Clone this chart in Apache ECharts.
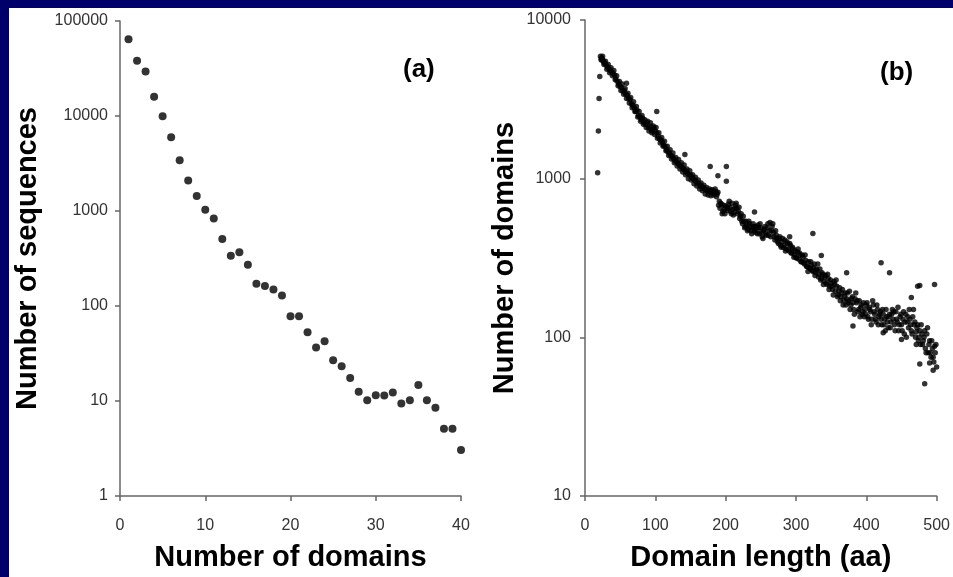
<!DOCTYPE html>
<html>
<head>
<meta charset="utf-8">
<script src="https://cdn.jsdelivr.net/npm/echarts@6/dist/echarts.min.js"></script>
<style>
  html, body { margin: 0; padding: 0; width: 953px; height: 577px; background: #00006a; overflow: hidden; }
  #chart { position: absolute; left: 9px; top: 8px; width: 944px; height: 569px; background: #ffffff; }
</style>
</head>
<body>
<div id="chart"></div>
<script>
// ---- Panel (a): number of sequences vs number of domains ----
const domainCounts = [1,2,3,4,5,6,7,8,9,10,11,12,13,14,15,16,17,18,19,20,21,22,23,24,25,26,27,28,29,30,31,32,33,34,35,36,37,38,39,40];
const sequenceCounts = [64300,38100,29400,15900,9930,5980,3430,2100,1440,1030,835,506,338,367,272,171,162,149,129,78,78,53,36.5,42.5,26.8,23.2,17.5,12.5,10.2,11.5,11.4,12.3,9.4,10.2,14.7,10.2,8.5,5.1,5.1,3.05];

// ---- Panel (b): number of domains vs domain length ----
const lengthBand = [22,24,26,28,30,32,34,36,38,40,42,44,46,48,50,52,54,56,58,60,62,64,66,68,70,72,74,76,78,80,82,84,86,88,90,92,94,96,98,100,102,104,106,108,110,112,114,116,118,120,122,124,126,128,130,132,134,136,138,140,142,144,146,148,150,152,154,156,158,160,162,164,166,168,170,172,174,176,178,180,182,184,186,188,190,192,194,196,198,200,202,204,206,208,210,212,214,216,218,220,222,224,226,228,230,232,234,236,238,240,242,244,246,248,250,252,254,256,258,260,262,264,266,268,270,272,274,276,278,280,282,284,286,288,290,292,294,296,298,300,302,304,306,308,310,312,314,316,318,320,322,324,326,328,330,332,334,336,338,340,342,344,346,348,350,352,354,356,358,360,362,364,366,368,370,372,374,376,378,380,382,384,386,388,390,392,394,396,398,400,402,404,406,408,410,412,414,416,418,420,422,424,426,428,430,432,434,436,438,440,442,444,446,448,450,452,454,456,458,460,462,464,466,468,470,472,474,476,478,480,482,484,486,488,490,492,494,496,498,500];
const countBand = [5900,5750,5500,5350,5200,5050,4950,4800,4700,4600,4500,4250,4100,3950,3800,3750,3550,3600,3400,3350,3200,3150,2950,2900,2800,2650,2700,2500,2450,2350,2400,2250,2200,2250,2100,2150,2050,2000,2100,2000,1950,1850,1780,1750,1700,1620,1600,1520,1480,1450,1400,1380,1340,1300,1280,1250,1230,1200,1180,1150,1130,1100,1080,1060,1050,1020,1000,980,960,940,930,900,890,880,860,850,840,830,840,820,830,810,830,800,680,650,690,620,640,670,630,690,660,600,640,610,680,650,620,560,600,520,540,500,510,480,520,470,490,500,460,480,510,450,490,430,470,500,440,520,470,430,500,460,410,440,400,420,380,400,370,410,360,390,350,380,340,360,330,320,345,310,330,300,320,290,305,280,300,270,285,260,290,255,265,240,270,235,250,225,245,215,235,210,220,200,225,195,210,185,205,180,200,170,190,175,165,195,160,180,150,175,165,145,170,155,140,165,150,160,135,155,145,130,160,140,125,150,135,145,120,140,130,150,125,135,115,140,130,120,145,125,110,135,120,130,105,140,125,115,130,110,135,120,100,115,95,110,120,90,100,85,105,80,95,75,85,70,80,65];
const lengthOdd = [23,25,27,29,31,33,35,37,39,41,43,45,47,49,51,53,55,57,59,61,63,65,67,69,71,73,75,77,79,81,83,85,87,89,91,93,95,97,99,101,103,105,107,109,111,113,115,117,119,121,123,125,127,129,131,133,135,137,139,141,143,145,147,149,151,153,155,157,159,161,163,165,167,169,171,173,175,177,179,181,183,185,187,189,191,195,197,203,207,209,211,213,217,219,221,223,225,227,229,231,235,237,239,241,243,245,247,251,253,255,257,259,261,265,267,269,273,275,277,279,281,283,285,287,289,291,293,295,297,299,301,305,307,309,311,315,319,321,323,325,327,329,333,335,337,339,341,343,347,349,351,353,355,359,361,363,365,369,371,373,375,377,379,381,383,387,389,391,393,395,399,401,403,405,407,411,413,417,419,421,423,425,429,431,433,435,439,441,443,447,449,451,455,457,459,463,465,469,471,473,475,477,481,483,485,489,491,495,497];
const countOdd = [5600,5900,5250,5500,4900,5250,4650,5000,4450,4800,4200,4450,3850,4100,3600,3950,3400,3700,3200,3450,3000,3250,2800,3050,2650,2850,2450,2650,2300,2500,2200,2350,2100,2300,2000,2250,1950,2150,1900,2100,1800,1950,1680,1820,1600,1720,1500,1600,1400,1520,1330,1450,1260,1360,1200,1320,1150,1260,1100,1220,1060,1150,1000,1120,980,1060,930,1020,900,980,860,940,840,910,800,880,790,860,780,850,790,860,770,820,720,600,680,650,620,700,590,650,600,660,580,540,580,490,540,470,500,450,520,470,500,450,490,460,420,480,450,490,440,470,520,430,420,390,430,370,420,380,350,400,360,390,340,370,320,350,315,340,300,330,295,280,275,300,265,275,245,270,250,230,255,215,240,220,200,230,210,185,215,180,195,170,190,180,160,190,170,150,175,165,140,170,150,135,160,145,140,165,130,150,120,145,130,120,140,130,150,120,135,115,140,125,145,110,130,120,140,110,125,100,135,120,105,125,108,120,100,90,95,110,80,90,80,75,88];
const lengthExtra = [18,19,20,21,23,25,27,59,102,142,178,201,189,201,241,291,324,336,372,421,433,464,473,497,476,381,424,450,471,483,490,495,476,331,345,357,367,385,397,409,415,427,437,445,453,461,467,479,487,493,499,303,313,317,271,263,249,233,215,205,199,193];
const countExtra = [1090,2000,3200,4400,5700,5600,5400,4000,2650,1420,1195,1195,1045,962,617,430,451,328,255,295,255,178,210,215,212,118,107,97,90,51,69,62,68,290,250,230,160,190,135,170,160,110,150,155,145,150,150,105,115,95,90,360,330,260,470,530,520,540,700,720,600,700];

const xTicksA = [0, 40, 10];   // min, max, interval
const xTicksB = [0, 500, 100];

const toPairs = (xs, ys) => xs.map((x, i) => [x, ys[i]]);

const axisLineStyle = { color: '#666', width: 1.5 };
const tickLabel = { color: '#333', fontSize: 16, fontFamily: 'Liberation Sans, Arial, sans-serif' };
const nameStyle = { color: '#000', fontSize: 29, fontWeight: 'bold', fontFamily: 'Liberation Sans, Arial, sans-serif' };
const fmt = v => String(Math.round(v));

const chart = echarts.init(document.getElementById('chart'), null, { renderer: 'canvas' });
chart.setOption({
  animation: false,
  backgroundColor: '#ffffff',
  grid: [
    { left: 111, top: 13, width: 341, height: 477 },
    { left: 576, top: 12, width: 352, height: 477 }
  ],
  xAxis: [
    {
      gridIndex: 0, type: 'value', min: xTicksA[0], max: xTicksA[1], interval: xTicksA[2],
      name: 'Number of domains', nameLocation: 'middle', nameGap: 47, nameTextStyle: nameStyle,
      axisLine: { lineStyle: axisLineStyle }, axisTick: { length: 5, lineStyle: axisLineStyle },
      axisLabel: Object.assign({ margin: 22 }, tickLabel), splitLine: { show: false }
    },
    {
      gridIndex: 1, type: 'value', min: xTicksB[0], max: xTicksB[1], interval: xTicksB[2],
      name: 'Domain length (aa)', nameLocation: 'middle', nameGap: 47, nameTextStyle: nameStyle,
      axisLine: { lineStyle: axisLineStyle }, axisTick: { length: 5, lineStyle: axisLineStyle },
      axisLabel: Object.assign({ margin: 22 }, tickLabel), splitLine: { show: false }
    }
  ],
  yAxis: [
    {
      gridIndex: 0, type: 'log', logBase: 10, min: 1, max: 100000,
      name: 'Number of sequences', nameLocation: 'middle', nameGap: 78, nameTextStyle: nameStyle,
      axisLine: { show: true, lineStyle: axisLineStyle }, axisTick: { show: true, length: 5, lineStyle: axisLineStyle },
      axisLabel: Object.assign({ margin: 12, formatter: fmt }, tickLabel), splitLine: { show: false }
    },
    {
      gridIndex: 1, type: 'log', logBase: 10, min: 10, max: 10000,
      name: 'Number of domains', nameLocation: 'middle', nameGap: 66, nameTextStyle: nameStyle,
      axisLine: { show: true, lineStyle: axisLineStyle }, axisTick: { show: true, length: 5, lineStyle: axisLineStyle },
      axisLabel: Object.assign({ margin: 14, formatter: fmt }, tickLabel), splitLine: { show: false }
    }
  ],
  graphic: [
    { type: 'text', left: 394, top: 49, style: { text: '(a)', fill: '#000', font: 'bold 26px "Liberation Sans", Arial, sans-serif' } },
    { type: 'text', left: 871, top: 52, style: { text: '(b)', fill: '#000', font: 'bold 26px "Liberation Sans", Arial, sans-serif' } }
  ],
  series: [
    {
      type: 'scatter', xAxisIndex: 0, yAxisIndex: 0, symbolSize: 8,
      itemStyle: { color: '#000' }, data: toPairs(domainCounts, sequenceCounts)
    },
    {
      type: 'scatter', xAxisIndex: 1, yAxisIndex: 1, symbolSize: 5.5,
      itemStyle: { color: '#000' }, data: toPairs(lengthBand, countBand)
    },
    {
      type: 'scatter', xAxisIndex: 1, yAxisIndex: 1, symbolSize: 5.5,
      itemStyle: { color: '#000' }, data: toPairs(lengthOdd, countOdd)
    },
    {
      type: 'scatter', xAxisIndex: 1, yAxisIndex: 1, symbolSize: 5.5,
      itemStyle: { color: '#000' }, data: toPairs(lengthExtra, countExtra)
    }
  ]
});
</script>
</body>
</html>
